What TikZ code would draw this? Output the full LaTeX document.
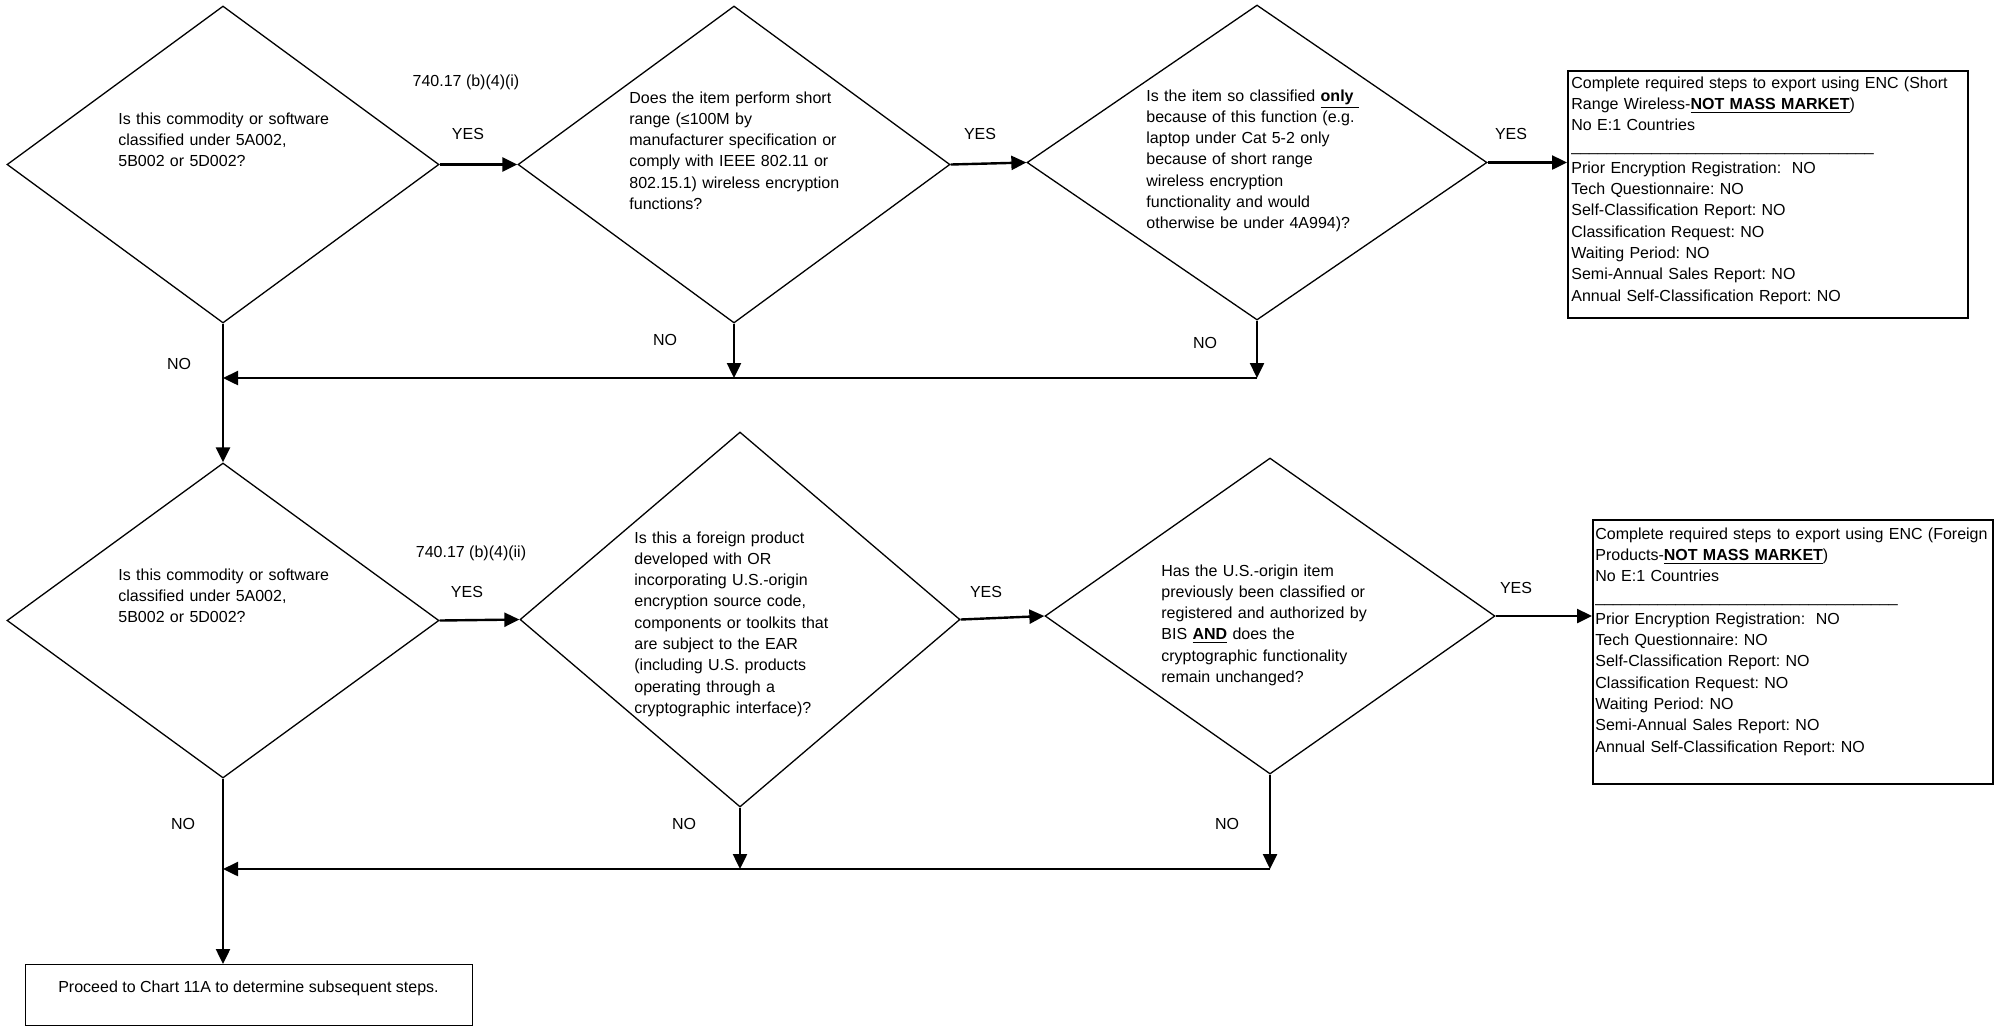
\documentclass[tikz,border=0pt]{standalone}
\usepackage{fontspec}
\setmainfont{Liberation Sans}
\usetikzlibrary{positioning,arrows.meta,shapes.geometric}

\tikzset{
  decision/.style={diamond, draw, line width=0.65pt, inner sep=0pt},
  qtext/.style={anchor=base west, align=left, text width=125pt, inner sep=0pt},
  outcome/.style={draw, line width=1.1pt, inner sep=0pt, anchor=north west},
  otext/.style={anchor=base west, align=left, text width=198pt, inner sep=0pt},
  flow/.style={line width=1.2pt, -{Triangle[length=7.5pt,width=7pt]}},
  lbl/.style={anchor=base, inner sep=0pt}
}
\newcommand{\ulb}[1]{\underline{\textbf{#1}}}
\newcommand{\sepline}{\_\_\_\_\_\_\_\_\_\_\_\_\_\_\_\_\_\_\_\_\_\_\_\_\_\_\_\_\_\_\_\_\_\_}

\begin{document}
\begin{tikzpicture}[x=0.5pt, y=-0.5pt, font=\fontsize{8}{10.65}\selectfont\frenchspacing]
  \useasboundingbox (0,0) rectangle (1996,1025);

  % Short range wireless row
  \node[decision, minimum width=216pt, minimum height=158.5pt] (d1) at (223,164.5) {};
  \node[qtext] (d1q) at (118,124) {Is this commodity or software\\
    classified under 5A002,\\ 5B002 or 5D002?};

  \node[decision, minimum width=216pt, minimum height=158.5pt] (d2) at (734,164.5) {};
  \node[qtext] (d2q) at (629,103) {Does the item perform short\\
    range (≤100M by\\ manufacturer specification or\\
    comply with IEEE 802.11 or\\ 802.15.1) wireless encryption\\ functions?};

  \node[decision, minimum width=230pt, minimum height=157.5pt] (d3) at (1257,162.5) {};
  \node[qtext] (d3q) at (1146,101) {Is the item so classified \ulb{only\ }\\
    because of this function (e.g.\\ laptop under Cat 5-2 only\\
    because of short range\\ wireless encryption\\
    functionality and would\\ otherwise be under 4A994)?};

  \node[outcome, minimum width=200pt, minimum height=123.5pt] (box1) at (1567,70) {};
  \node[otext] (box1txt) at (1571,88) {Complete required steps to export using ENC (Short\\
    Range Wireless-\ulb{NOT MASS MARKET})\\ No E:1 Countries\\ \sepline\\
    Prior Encryption Registration:\ \ NO\\ Tech Questionnaire: NO\\
    Self-Classification Report: NO\\ Classification Request: NO\\
    Waiting Period: NO\\ Semi-Annual Sales Report: NO\\
    Annual Self-Classification Report: NO};

  % Foreign products row
  \node[decision, minimum width=216pt, minimum height=157.5pt] (d4) at (223,620.5) {};
  \node[qtext] (d4q) at (118,580) {Is this commodity or software\\
    classified under 5A002,\\ 5B002 or 5D002?};

  \node[decision, minimum width=220pt, minimum height=187.5pt] (d5) at (740,619.5) {};
  \node[qtext] (d5q) at (634,543) {Is this a foreign product\\
    developed with OR\\ incorporating U.S.-origin\\
    encryption source code,\\ components or toolkits that\\
    are subject to the EAR\\ (including U.S. products\\
    operating through a\\ cryptographic interface)?};

  \node[decision, minimum width=225pt, minimum height=158pt] (d6) at (1270,616) {};
  \node[qtext] (d6q) at (1161,576) {Has the U.S.-origin item\\
    previously been classified or\\ registered and authorized by\\
    BIS \ulb{AND} does the\\ cryptographic functionality\\ remain unchanged?};

  \node[outcome, minimum width=200pt, minimum height=132pt] (box2) at (1592,519) {};
  \node[otext] (box2txt) at (1595,539) {Complete required steps to export using ENC (Foreign\\
    Products-\ulb{NOT MASS MARKET})\\ No E:1 Countries\\ \sepline\\
    Prior Encryption Registration:\ \ NO\\ Tech Questionnaire: NO\\
    Self-Classification Report: NO\\ Classification Request: NO\\
    Waiting Period: NO\\ Semi-Annual Sales Report: NO\\
    Annual Self-Classification Report: NO};

  % Final step
  \node[outcome, line width=0.7pt, minimum width=223.5pt, minimum height=30.5pt] (box3) at (25,964) {};
  \node[lbl] (box3txt) at (248.5,992) {Proceed to Chart 11A to determine subsequent steps.};

  % YES branches
  \draw[flow] (d1.east) -- (d2.west);
  \draw[flow] (d2.east) -- (d3.west);
  \draw[flow] (d3.east) -- (d3.east -| box1.west);
  \draw[flow] (d4.east) -- (d5.west);
  \draw[flow] (d5.east) -- (d6.west);
  \draw[flow] (d6.east) -- (d6.east -| box2.west);

  % NO branches
  \coordinate (m1) at (1257,378);
  \coordinate (m2) at (1270,869);
  \draw[flow] (d3.south) -- (m1);
  \draw[flow] (d2.south) -- (d2.south |- m1);
  \draw[flow] (m1) -- (d1.south |- m1);
  \draw[flow] (d1.south) -- (d4.north);
  \draw[flow] (d6.south) -- (m2);
  \draw[flow] (d5.south) -- (d5.south |- m2);
  \draw[flow] (m2) -- (d4.south |- m2);
  \draw[flow] (d4.south) -- (d4.south |- box3.north);

  % Labels
  \node[lbl] (ref1) at (466,86) {740.17 (b)(4)(i)};
  \node[lbl] (yes1) at (468,139) {YES};
  \node[lbl] (yes2) at (980,139) {YES};
  \node[lbl] (yes3) at (1511,139) {YES};
  \node[lbl] (no1) at (179,369) {NO};
  \node[lbl] (no2) at (665,345) {NO};
  \node[lbl] (no3) at (1205,348) {NO};
  \node[lbl] (ref2) at (471,557) {740.17 (b)(4)(ii)};
  \node[lbl] (yes4) at (467,597) {YES};
  \node[lbl] (yes5) at (986,597) {YES};
  \node[lbl] (yes6) at (1516,593) {YES};
  \node[lbl] (no4) at (183,829) {NO};
  \node[lbl] (no5) at (684,829) {NO};
  \node[lbl] (no6) at (1227,829) {NO};
\end{tikzpicture}
\end{document}
